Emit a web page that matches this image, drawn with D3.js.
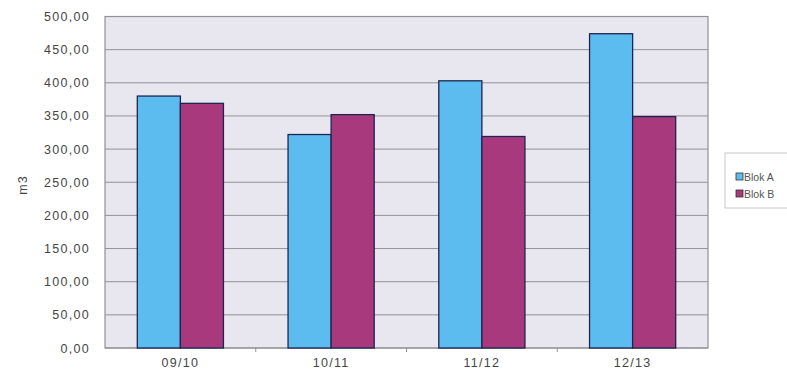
<!DOCTYPE html>
<html>
<head>
<meta charset="utf-8">
<script src="https://cdn.jsdelivr.net/npm/d3@7/dist/d3.min.js"></script>
<style>
  html, body { margin: 0; padding: 0; background: #fff; }
  svg { display: block; font-family: "Liberation Sans", Arial, sans-serif; }
</style>
</head>
<body>
<svg id="chart" width="787" height="377"></svg>
<script>
// Season volumes (m3) per building block
const seasons = ["09/10", "10/11", "11/12", "12/13"];
const blokA = [380, 322, 403, 474];
const blokB = [369, 352, 319, 349];
const seriesNames = ["Blok A", "Blok B"];
const seriesColors = ["#5cbcf0", "#a8397d"];
const yTicks = [0, 50, 100, 150, 200, 250, 300, 350, 400, 450, 500];

const svg = d3.select("#chart");
const margin = { left: 105, right: 79, top: 16.5, bottom: 29 };
const W = 787, H = 377;
const innerW = W - margin.left - margin.right;
const innerH = H - margin.top - margin.bottom;
const textColor = "#454545";

const x = d3.scaleBand().domain(seasons).range([0, innerW]).paddingInner(0).paddingOuter(0);
const x1 = d3.scaleBand().domain(seriesNames).range([0, x.bandwidth()])
  .paddingInner(0).paddingOuter(0.75);
const y = d3.scaleLinear().domain([0, 500]).range([innerH, 0]);

const g = svg.append("g").attr("transform", `translate(${margin.left},${margin.top})`);

// plot area background
g.append("rect").attr("x", 0).attr("y", 0).attr("width", innerW).attr("height", innerH)
  .attr("fill", "#e8e6ef");

// horizontal grid lines
g.append("g").selectAll("line").data(yTicks).join("line")
  .attr("x1", 0).attr("x2", innerW)
  .attr("y1", d => y(d)).attr("y2", d => y(d))
  .attr("stroke", "#929297").attr("stroke-width", 1);

// plot frame
g.append("rect").attr("x", 0).attr("y", 0).attr("width", innerW).attr("height", innerH)
  .attr("fill", "none").attr("stroke", "#929297").attr("stroke-width", 1.2);

// bars
const rows = seasons.map((s, i) => ({ season: s, values: [blokA[i], blokB[i]] }));
const groups = g.append("g").selectAll("g").data(rows).join("g")
  .attr("transform", d => `translate(${x(d.season)},0)`);
groups.selectAll("rect").data(d => d.values.map((v, j) => ({ v, name: seriesNames[j], j })))
  .join("rect")
  .attr("x", d => x1(d.name))
  .attr("y", d => y(d.v))
  .attr("width", x1.bandwidth())
  .attr("height", d => innerH - y(d.v))
  .attr("fill", d => seriesColors[d.j])
  .attr("stroke", "#1e2550")
  .attr("stroke-width", 1.3);

// y axis
const fmt = d => d3.format(".2f")(d).replace(".", ",");
const yAxis = g.append("g")
  .call(d3.axisLeft(y).tickValues(yTicks).tickFormat(fmt).tickSize(0).tickPadding(15));
yAxis.select(".domain").remove();
yAxis.selectAll("text").attr("fill", textColor)
  .style("font-size", "12.5px").style("letter-spacing", "1.3px");

// x axis
const xAxis = g.append("g").attr("transform", `translate(0,${innerH})`)
  .call(d3.axisBottom(x).tickSize(0).tickPadding(10));
xAxis.select(".domain").remove();
xAxis.selectAll("text").attr("fill", textColor)
  .style("font-size", "12.5px").style("letter-spacing", "1.3px");
// category separators on the x axis
g.append("g").selectAll("line").data(seasons.slice(1)).join("line")
  .attr("x1", d => x(d)).attr("x2", d => x(d))
  .attr("y1", innerH).attr("y2", innerH + 4)
  .attr("stroke", "#929297");

// y axis title
svg.append("text")
  .attr("transform", "translate(27,185) rotate(-90)")
  .attr("text-anchor", "middle")
  .attr("fill", textColor)
  .style("font-size", "12.5px")
  .style("letter-spacing", "1px")
  .text("m3");

// legend
const leg = svg.append("g").attr("transform", "translate(725,153)");
leg.append("rect").attr("x", 0).attr("y", 0).attr("width", 70).attr("height", 55)
  .attr("fill", "#fff").attr("stroke", "#c8c8c8");
seriesNames.forEach((n, i) => {
  const row = leg.append("g").attr("transform", `translate(11,${24 + i * 17})`);
  row.append("rect").attr("x", 0).attr("y", -4).attr("width", 7).attr("height", 7)
    .attr("fill", seriesColors[i]).attr("stroke", "#333").attr("stroke-width", 0.8);
  row.append("text").attr("x", 8).attr("y", 4)
    .attr("fill", "#555").style("font-size", "10.5px").text(n);
});
</script>
</body>
</html>
